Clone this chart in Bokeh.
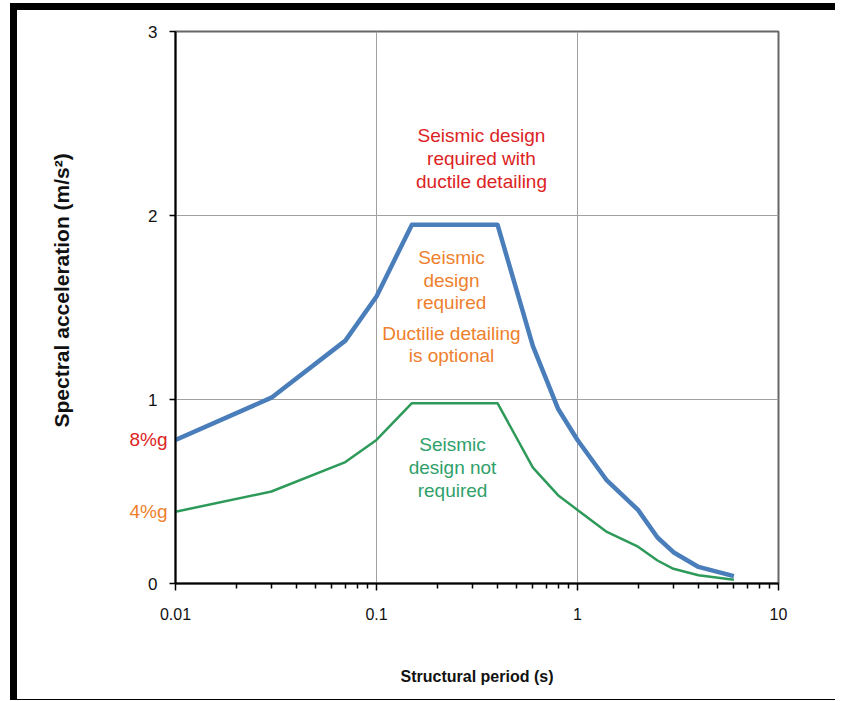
from bokeh.plotting import figure
from bokeh.models import FixedTicker, Range1d, ColumnDataSource, LinearAxis, Title
from bokeh.core.properties import value
from bokeh.embed import file_html
from bokeh.resources import INLINE

# ---- data ----
period = [0.01, 0.03, 0.07, 0.1, 0.15, 0.4, 0.6, 0.8, 1.0, 1.4, 2.0, 2.5, 3.0, 4.0, 6.0]
sa_ductile = [0.78, 1.01, 1.32, 1.56, 1.95, 1.95, 1.29, 0.95, 0.78, 0.56, 0.40, 0.25, 0.17, 0.09, 0.04]
sa_design = [0.39, 0.50, 0.66, 0.78, 0.98, 0.98, 0.63, 0.48, 0.40, 0.28, 0.20, 0.125, 0.08, 0.045, 0.02]

x_ticks = [0.01, 0.1, 1, 10]
x_tick_labels = ["0.01", "0.1", "1", "10"]
x_minor = [m * d for d in [0.01, 0.1, 1] for m in range(2, 10)]
y_ticks = [0, 1, 2, 3]

red_text = ["Seismic design", "required with", "ductile detailing"]
red_x = [0.333, 0.333, 0.333]
red_y = [2.435, 2.310, 2.185]

orange_text = ["Seismic", "design", "required", "Ductilie detailing", "is optional"]
orange_x = [0.236, 0.236, 0.236, 0.236, 0.236]
orange_y = [1.772, 1.647, 1.527, 1.359, 1.239]

green_text = ["Seismic", "design not", "required"]
green_x = [0.239, 0.239, 0.239]
green_y = [0.755, 0.630, 0.505]

pct_text = ["8%g", "4%g"]
pct_y = [0.785, 0.392]

BLUE = "#4A7EBB"
GREEN = "#2E9A5A"
RED = "#DC2323"
ORANGE = "#EE7F2D"
GREEN_TXT = "#2FA06A"

p = figure(width=825, height=697, x_axis_type="log",
           x_range=Range1d(0.01, 10), y_range=Range1d(0, 3),
           output_backend="svg", toolbar_location=None,
           min_border_left=158, min_border_right=64,
           min_border_top=21, min_border_bottom=124)
p.styles = {"margin-left": "10px", "margin-top": "3px",
            "border-left": "7px solid black", "border-top": "7px solid black",
            "border-bottom": "1px solid black"}

p.outline_line_color = "#666666"
p.outline_line_width = 2

# grids
p.xgrid.ticker = FixedTicker(ticks=[0.1, 1])
p.ygrid.ticker = FixedTicker(ticks=[1, 2])
p.xgrid.grid_line_color = "#a0a0a0"
p.ygrid.grid_line_color = "#a0a0a0"
p.xgrid.grid_line_width = 1
p.ygrid.grid_line_width = 1

# x axis
xa = p.xaxis[0]
xa.ticker = FixedTicker(ticks=x_ticks, minor_ticks=x_minor)
xa.major_label_overrides = {t: l for t, l in zip(x_ticks, x_tick_labels)}
xa.axis_line_color = "black"
xa.axis_line_width = 2
xa.major_tick_in = 0
xa.major_tick_out = 7
xa.minor_tick_in = 0
xa.minor_tick_out = 5
xa.major_tick_line_color = "black"
xa.minor_tick_line_color = "black"
xa.major_tick_line_width = 1.5
xa.minor_tick_line_width = 1.5
xa.major_label_text_font = "Liberation Sans"
xa.major_label_text_font_size = "16px"
xa.major_label_text_color = "#111111"
xa.major_label_standoff = 17
xa.axis_label = "Structural period (s)"
xa.axis_label_text_font = "Liberation Sans"
xa.axis_label_text_font_style = "bold"
xa.axis_label_text_font_size = "16px"
xa.axis_label_text_color = "#111111"
xa.axis_label_standoff = 45

# main y axis
ya = p.yaxis[0]
ya.ticker = FixedTicker(ticks=y_ticks)
ya.axis_line_color = "black"
ya.axis_line_width = 2
ya.major_tick_in = 0
ya.major_tick_out = 6
ya.major_tick_line_color = "black"
ya.major_tick_line_width = 1.5
ya.minor_tick_line_color = None
ya.major_label_text_font = "Liberation Sans"
ya.major_label_text_font_size = "17px"
ya.major_label_text_color = "#111111"
ya.major_label_standoff = 12

# %g reference labels as extra tickless axes
def pct_axis(tick, text, color, standoff):
    ax = LinearAxis(ticker=FixedTicker(ticks=[tick]),
                    major_label_overrides={tick: text})
    ax.axis_line_color = None
    ax.major_tick_line_color = None
    ax.minor_tick_line_color = None
    ax.major_tick_in = 0
    ax.major_tick_out = 0
    ax.minor_tick_in = 0
    ax.minor_tick_out = 0
    ax.major_label_standoff = standoff
    ax.major_label_text_color = color
    ax.major_label_text_font = "Liberation Sans"
    ax.major_label_text_font_size = "19px"
    p.add_layout(ax, "left")
    return ax

pct_axis(pct_y[0], pct_text[0], RED, -22)
ax_c = pct_axis(pct_y[1], pct_text[1], ORANGE, -41)
# blank spacer label to push the title outward
ax_c.axis_label = " "
ax_c.axis_label_text_font_size = "10px"
ax_c.axis_label_standoff = 8

# y-axis title
p.add_layout(Title(text="Spectral acceleration  (m/s\u00b2)", align="left",
                   vertical_align="top", offset=156, standoff=60,
                   text_font="Liberation Sans", text_font_style="bold",
                   text_font_size="21px", text_color="#111111"), "left")

# curves
p.line(period, sa_design, line_color=GREEN, line_width=2.5, line_join="round")
p.line(period, sa_ductile, line_color=BLUE, line_width=4.5, line_join="round")

# annotations
def add_text(xs, ys, texts, color):
    src = ColumnDataSource(dict(x=xs, y=ys, text=texts))
    p.text(x="x", y="y", text="text", source=src, text_align="center",
           text_baseline="middle", text_color=color,
           text_font=value("Liberation Sans"), text_font_size="19px")

add_text(red_x, red_y, red_text, RED)
add_text(orange_x, orange_y, orange_text, ORANGE)
add_text(green_x, green_y, green_text, GREEN_TXT)

open("out.html", "w").write(file_html(p, INLINE))
